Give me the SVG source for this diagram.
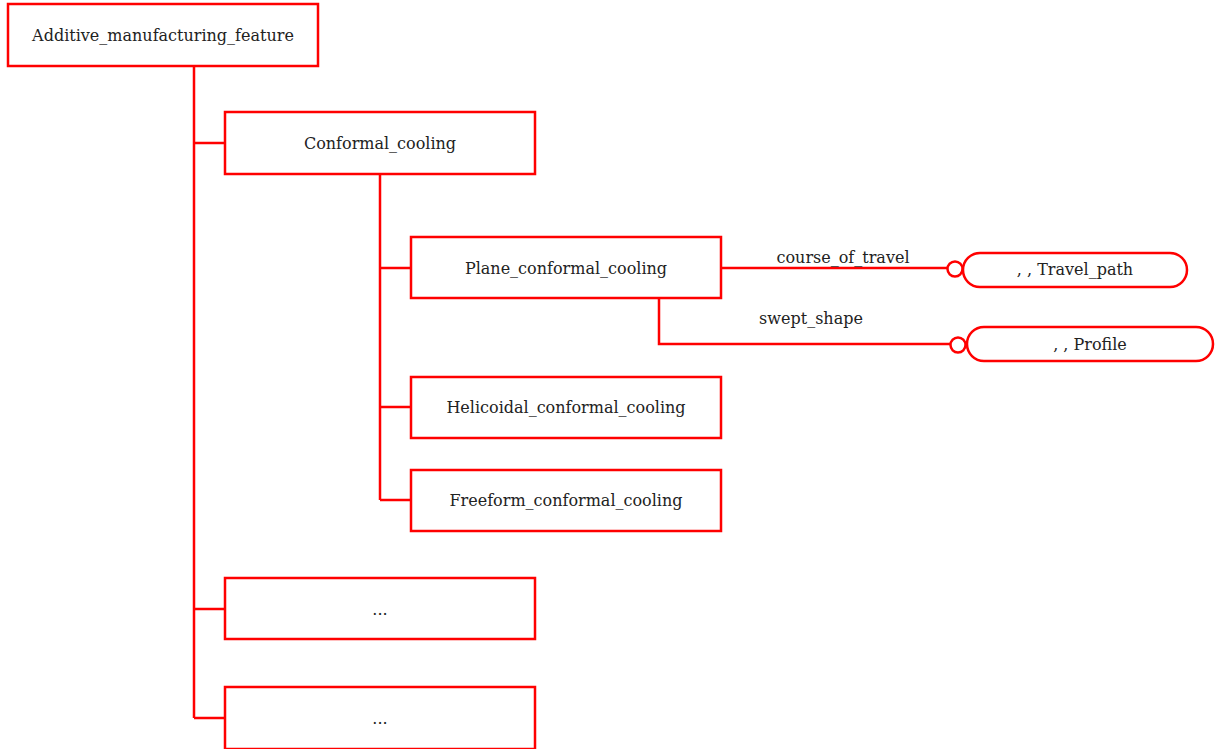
<svg xmlns="http://www.w3.org/2000/svg" width="1215" height="749" viewBox="0 0 1215 749">
<style>
.box{fill:#fff;stroke:#ff0000;stroke-width:2.5}
.ln{fill:none;stroke:#ff0000;stroke-width:2.5}
.t{font-family:"DejaVu Serif","Liberation Serif",serif;font-size:16px;fill:#222;text-anchor:middle;dominant-baseline:central}
</style>
<rect width="1215" height="749" fill="#fff"/>
<g id="connectors">
<path class="ln" d="M194 66V718M194 143H225M194 609H225M194 718H225"/>
<path class="ln" d="M380 174V500M380 268H411M380 407H411M380 500H411"/>
<path class="ln" d="M721 268H947"/>
<circle class="ln" cx="955" cy="269" r="7.5"/>
<path class="ln" d="M659 298V344H950"/>
<circle class="ln" cx="958" cy="345" r="7.5"/>
<text class="t" x="843" y="257">course_of_travel</text>
<text class="t" x="811" y="318">swept_shape</text>
</g>
<g id="n_amf"><rect class="box" x="8" y="4" width="310" height="62"/><text class="t" x="163" y="35">Additive_manufacturing_feature</text></g>
<g id="n_cc"><rect class="box" x="225" y="112" width="310" height="62"/><text class="t" x="380" y="143">Conformal_cooling</text></g>
<g id="n_pcc"><rect class="box" x="411" y="237" width="310" height="61"/><text class="t" x="566" y="268">Plane_conformal_cooling</text></g>
<g id="n_hcc"><rect class="box" x="411" y="377" width="310" height="61"/><text class="t" x="566" y="407">Helicoidal_conformal_cooling</text></g>
<g id="n_fcc"><rect class="box" x="411" y="470" width="310" height="61"/><text class="t" x="566" y="500">Freeform_conformal_cooling</text></g>
<g id="n_e1"><rect class="box" x="225" y="578" width="310" height="61"/><text class="t" x="380" y="609">...</text></g>
<g id="n_e2"><rect class="box" x="225" y="687" width="310" height="62"/><text class="t" x="380" y="718">...</text></g>
<g id="n_tp"><rect class="box" x="963" y="253" width="224" height="34" rx="17"/><text class="t" x="1075" y="269">, , Travel_path</text></g>
<g id="n_pr"><rect class="box" x="967" y="327" width="246" height="34" rx="17"/><text class="t" x="1090" y="344">, , Profile</text></g>
</svg>
